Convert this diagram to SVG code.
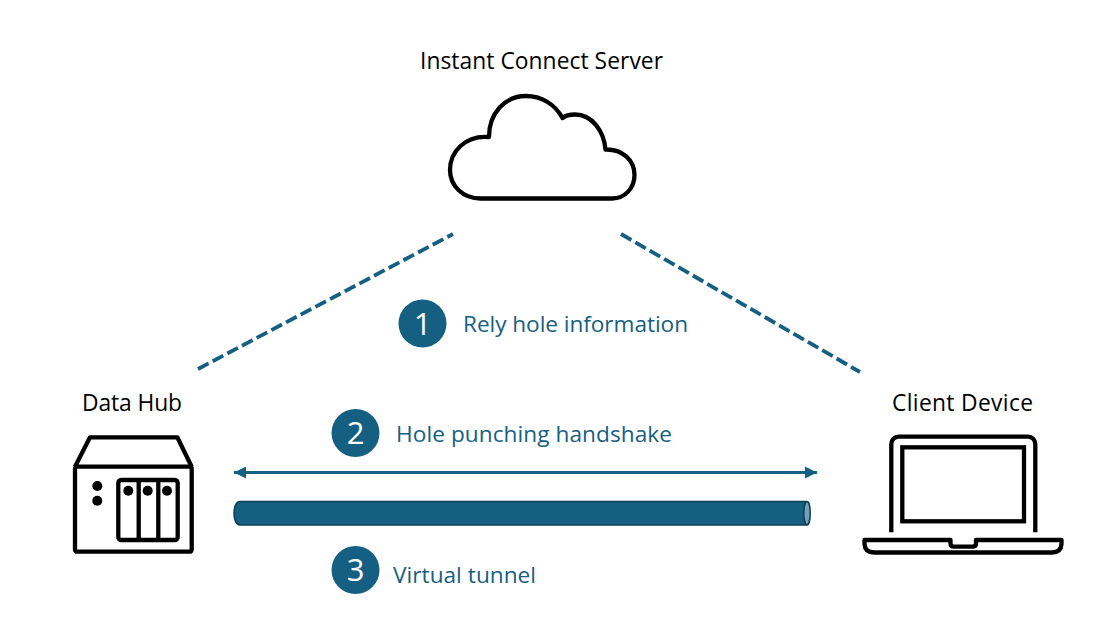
<svg xmlns="http://www.w3.org/2000/svg" width="1116" height="643" viewBox="0 0 1116 643">
<style>
text{font-family:"Open Sans","Liberation Sans",sans-serif}
.n{font-size:22.800px;fill:#000}
.l{font-size:22.600px;fill:#156082}
.d{font-size:31px;fill:#fff;text-anchor:middle;font-weight:500}
.c{fill:#156082}
.i{fill:none;stroke:#000;stroke-width:4.300;stroke-linejoin:round}
.o{fill:none;stroke:#000;stroke-width:4.300}
.dash{fill:none;stroke:#156082;stroke-width:3.800;stroke-dasharray:12 4.600}
</style>
<defs>
<marker id="ah" markerUnits="userSpaceOnUse" viewBox="0 0 13 13" refX="12" refY="6.500" markerWidth="13" markerHeight="13" orient="auto-start-reverse"><path d="M0 0.500L12 6.500L0 12.500Z" fill="#156082"/></marker>
</defs>
<rect width="1116" height="643" fill="#fff"/>
<g id="connectors">
<path class="dash" d="M198 369L453 234"/>
<path class="dash" d="M621 234L860 372"/>
<path d="M234 472.500H817" fill="none" stroke="#156082" stroke-width="3" marker-start="url(#ah)" marker-end="url(#ah)"/>
</g>
<g id="server">
<text class="n" x="420" y="68.500" textLength="243">Instant Connect Server</text>
<path class="i" d="M480.500 198.500H612C625 198.500 634.500 188 634.500 175C634.500 160 622 149 605.500 149.500C604 131 592 114.500 575 114.500C571 114.500 566 115 562.500 118C555 104 541 96 526 96C505 96 489 113 489 137C465 135 450 152 450 170C450 186 463 198.500 480.500 198.500Z"/>
</g>
<g id="hub">
<text class="n" x="82" y="410.500" textLength="100">Data Hub</text>
<rect class="i" x="75" y="466.700" width="116.700" height="85" rx="2"/>
<path class="i" d="M75 466.700L90 437.300H177.300L191.700 466.700"/>
<rect class="i" x="118.300" y="480" width="59.400" height="60" rx="3"/>
<path class="o" d="M138.700 480V540M158.300 480V540"/>
<circle cx="128.300" cy="490.700" r="5"/><circle cx="147.700" cy="490.700" r="5"/><circle cx="167" cy="490.700" r="5"/>
<circle cx="97.300" cy="486" r="5"/><circle cx="97.300" cy="500.700" r="5"/>
</g>
<g id="client">
<text class="n" x="892" y="410.500" textLength="141">Client Device</text>
<path class="o" d="M891.300 532.300V444A7.300 7.300 0 0 1 898.600 436.700H1028A7.300 7.300 0 0 1 1035.300 444V532.300"/>
<rect class="o" x="902.300" y="447.300" width="121.700" height="74"/>
<path class="i" d="M864.500 540H950.500V543.500Q950.500 546.700 954 546.700H972.500Q976 546.700 976 543.500V540H1061.500V544Q1061 552.500 1052 552.500H874Q865 552.500 864.500 544Z"/>
</g>
<g id="tunnel">
<path d="M240 501.500H806.500V525H240C232 525 232 501.500 240 501.500Z" fill="#156082" stroke="#0d3f55" stroke-width="1.500"/>
<ellipse cx="807" cy="513.200" rx="3.200" ry="11.700" fill="#73a0b4" stroke="#0d3f55" stroke-width="1.500"/>
</g>
<g id="step1">
<circle class="c" cx="422.500" cy="323.500" r="24"/><text class="d" x="422.500" y="334.500">1</text>
<text class="l" x="463" y="331.500" textLength="225">Rely hole information</text>
</g>
<g id="step2">
<circle class="c" cx="355.500" cy="433" r="24"/><text class="d" x="355.500" y="444">2</text>
<text class="l" x="396" y="441.500" textLength="276">Hole punching handshake</text>
</g>
<g id="step3">
<circle class="c" cx="355.500" cy="570" r="24"/><text class="d" x="355.500" y="581">3</text>
<text class="l" x="393" y="582.500" textLength="143">Virtual tunnel</text>
</g>
</svg>
